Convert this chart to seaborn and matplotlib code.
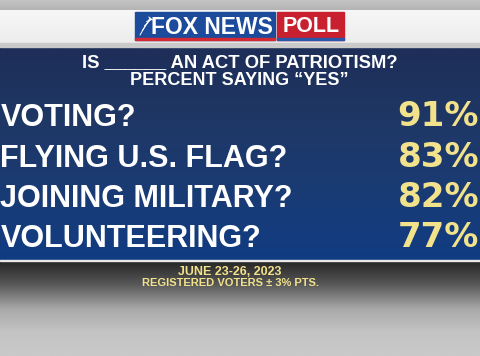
import matplotlib.pyplot as plt
import seaborn as sns
import numpy as np
from matplotlib.patches import Rectangle

sns.set_theme(style="white")
plt.rcParams['font.family'] = ['Liberation Sans', 'DejaVu Sans']

# poll data
labels = ["VOTING?", "FLYING U.S. FLAG?", "JOINING MILITARY?", "VOLUNTEERING?"]
values = [91, 83, 82, 77]
title_lines = ["IS ______ AN ACT OF PATRIOTISM?", "PERCENT SAYING \u201cYES\u201d"]
footer_lines = ["JUNE 23-26, 2023", "REGISTERED VOTERS \u00b1 3% PTS."]

W, H = 480, 356
yellow = '#f2e28c'

fig = plt.figure(figsize=(4.8, 3.56), dpi=100)

# background in pixel coordinates
bg = fig.add_axes([0, 0, 1, 1])
bg.set_xlim(0, W)
bg.set_ylim(H, 0)
bg.axis('off')

def vgrad(ax, y0, y1, colors):
    pal = sns.blend_palette(colors, n_colors=64)
    img = np.array(pal)[:, None, :]
    ax.imshow(img, extent=[0, W, y1, y0], aspect='auto', interpolation='bilinear', zorder=0)

vgrad(bg, 0, 10, ['#c4c4c4', '#b4b4b4'])
vgrad(bg, 10, 44, ['#f7f7f7', '#ececec'])
bg.add_patch(Rectangle((0, 43), W, 4, color='#c9c9c9', zorder=1))
vgrad(bg, 47, 260, ['#1d2e58', '#1f3765', '#1a3b74', '#113c82'])
bg.add_patch(Rectangle((0, 259.5), W, 1.5, color='#e8e8e8', zorder=1))
vgrad(bg, 261, H, ['#262626', '#5a5a5a', '#a8a8a8', '#c4c4c4', '#c9c9c9'])

# logo
bg.add_patch(Rectangle((135, 12), 140, 28, color='#1c4b9c', zorder=2))
bg.add_patch(Rectangle((135, 37.5), 140, 2.5, color='#d12a35', zorder=3))
bg.add_patch(Rectangle((277, 12), 67, 28, color='#c9202f', zorder=2))
bg.add_patch(Rectangle((277, 37.5), 67, 2.5, color='#2a56a8', zorder=3))
for k in range(5):
    bg.plot([140 + k * 2.2, 150 + k * 0.6], [35 - k * 4.5, 18 + k * 0.5], color='white', lw=0.7, zorder=3)
bg.text(212, 27, "FOX NEWS", color='white', fontsize=16.5, fontweight='bold',
        ha='center', va='center', zorder=4)
bg.text(311, 27, "POLL", color='white', fontsize=15.5, fontweight='bold',
        ha='center', va='center', zorder=4)

# title
bg.text(240, 67, title_lines[0], color='white', fontsize=13.2, fontweight='bold', ha='center', va='baseline')
bg.text(239, 85, title_lines[1], color='white', fontsize=13, fontweight='bold', ha='center', va='baseline')

# footer
bg.text(230, 275, footer_lines[0], color=yellow, fontsize=9, fontweight='bold', ha='center', va='baseline')
bg.text(230, 286, footer_lines[1], color=yellow, fontsize=8, fontweight='bold', ha='center', va='baseline')

# rows: one row per category, baseline at integer positions
row = 40.2
top = 126.5 - 0.5 * row
ax = fig.add_axes([0, 1 - (top + len(labels) * row) / H, 1, len(labels) * row / H])
ax.set_xlim(0, W)
ax.set_ylim(len(labels) - 0.5, -0.5)
ax.axis('off')
ax.patch.set_alpha(0)
for i, (lab, v) in enumerate(zip(labels, values)):
    ax.text(0.5, i, lab, color='white', fontsize=22, fontweight='bold', ha='left', va='baseline')
    ax.text(479, i, f"{v}%", color=yellow, fontsize=24.5, fontweight='bold', ha='right', va='baseline',
            family='DejaVu Sans')

fig.savefig('out.png', dpi=100)
